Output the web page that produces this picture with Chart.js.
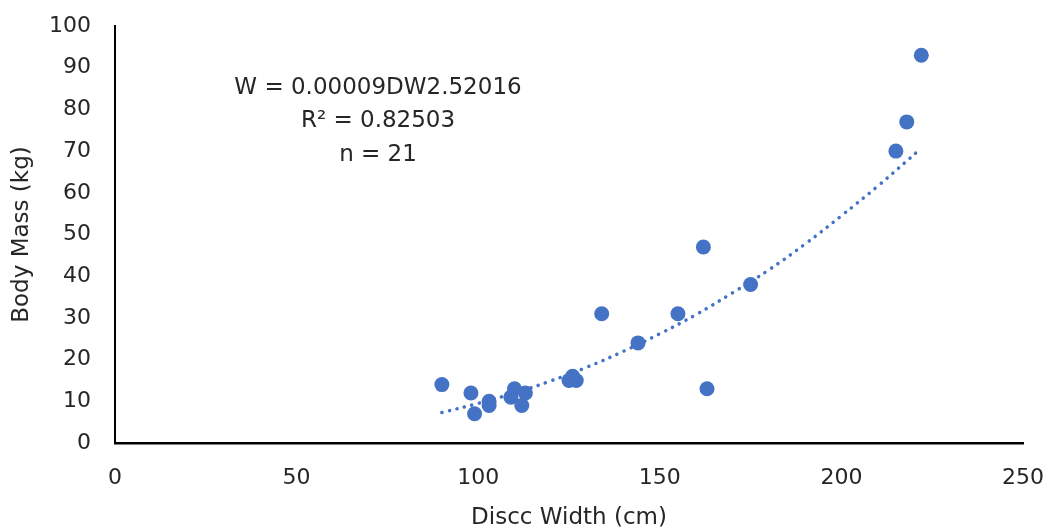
<!DOCTYPE html>
<html>
<head>
<meta charset="utf-8">
<script src="https://cdn.jsdelivr.net/npm/chart.js@4/dist/chart.umd.min.js"></script>
<style>
  html, body { margin: 0; padding: 0; background: #fff; }
  #wrap { width: 1048px; height: 532px; }
</style>
</head>
<body>
<div id="wrap"><canvas id="massChart" width="1048" height="532"></canvas></div>
<script>
// disc width (cm) and body mass (kg)
const discWidth = [90, 98, 99, 103, 103, 109, 110, 112, 113, 125, 126, 127, 134, 144, 155, 162, 163, 175, 215, 218, 222];
const bodyMass  = [14, 12, 7, 10, 9, 11, 13, 9, 12, 15, 16, 15, 31, 24, 31, 47, 13, 38, 70, 77, 93];

// dotted power trend line
const trendX = [90, 100, 110, 120, 130, 140, 150, 160, 170, 180, 190, 200, 210, 222];
const trendY = [7.3, 9.5, 12, 14.9, 18.2, 22, 26.2, 30.8, 36, 41.5, 47.7, 54.5, 61.6, 70.7];

const xTicks = [0, 50, 100, 150, 200, 250];
const equationLines = ['W = 0.00009DW2.52016', 'R\u00b2 = 0.82503', 'n = 21'];

const fontFamily = '"DejaVu Sans", sans-serif';
const textColor = '#262626';

const equationPlugin = {
    id: 'equationText',
    afterDraw: function (chart) {
        const ctx = chart.ctx;
        const area = chart.chartArea;
        ctx.save();
        ctx.fillStyle = textColor;
        ctx.font = '23px ' + fontFamily;
        ctx.textAlign = 'center';
        ctx.textBaseline = 'middle';
        equationLines.forEach(function (line, i) {
            ctx.fillText(line, area.left + 263, area.top + 62 + i * 33.5);
        });
        ctx.restore();
    }
};

new Chart(document.getElementById('massChart').getContext('2d'), {
    data: {
        datasets: [{
            type: 'line',
            label: 'Trend',
            data: trendX.map(function (x, i) { return { x: x, y: trendY[i] }; }),
            borderColor: '#4472C4',
            borderWidth: 3.5,
            borderDash: [0.1, 7.6],
            borderCapStyle: 'round',
            pointRadius: 0,
            fill: false,
            tension: 0.4,
            order: 0
        }, {
            type: 'scatter',
            label: 'Body Mass',
            data: discWidth.map(function (x, i) { return { x: x, y: bodyMass[i] }; }),
            backgroundColor: '#4472C4',
            borderColor: '#4472C4',
            pointRadius: 7.5,
            pointBorderWidth: 0,
            order: 1
        }]
    },
    options: {
        responsive: false,
        animation: false,
        layout: { padding: { top: 26, right: 25, bottom: 0, left: 8 } },
        scales: {
            x: {
                type: 'linear',
                min: 0,
                max: 250,
                afterBuildTicks: function (axis) {
                    axis.ticks = xTicks.map(function (v) { return { value: v }; });
                },
                afterFit: function (axis) {
                    axis.height = 89;
                    axis.paddingLeft = 0;
                    axis.paddingRight = 0;
                },
                grid: { display: false, drawTicks: false },
                border: { display: true, color: '#000', width: 2.5 },
                ticks: {
                    padding: 22,
                    color: textColor,
                    font: { family: fontFamily, size: 22 },
                    maxRotation: 0
                },
                title: {
                    display: true,
                    text: 'Discc Width (cm)',
                    color: textColor,
                    font: { family: fontFamily, size: 23 },
                    padding: { top: 6, bottom: 0 }
                }
            },
            y: {
                min: 0,
                max: 100,
                afterFit: function (axis) {
                    axis.width = 107;
                    axis.paddingTop = 0;
                    axis.paddingBottom = 0;
                },
                grid: { display: false, drawTicks: false },
                border: { display: true, color: '#000', width: 2 },
                ticks: {
                    stepSize: 10,
                    padding: 24,
                    color: textColor,
                    font: { family: fontFamily, size: 22 }
                },
                title: {
                    display: true,
                    text: 'Body Mass (kg)',
                    color: textColor,
                    font: { family: fontFamily, size: 23 },
                    padding: { top: 0, bottom: 6 }
                }
            }
        },
        plugins: {
            legend: { display: false },
            tooltip: { enabled: false }
        }
    },
    plugins: [equationPlugin]
});
</script>
</body>
</html>
